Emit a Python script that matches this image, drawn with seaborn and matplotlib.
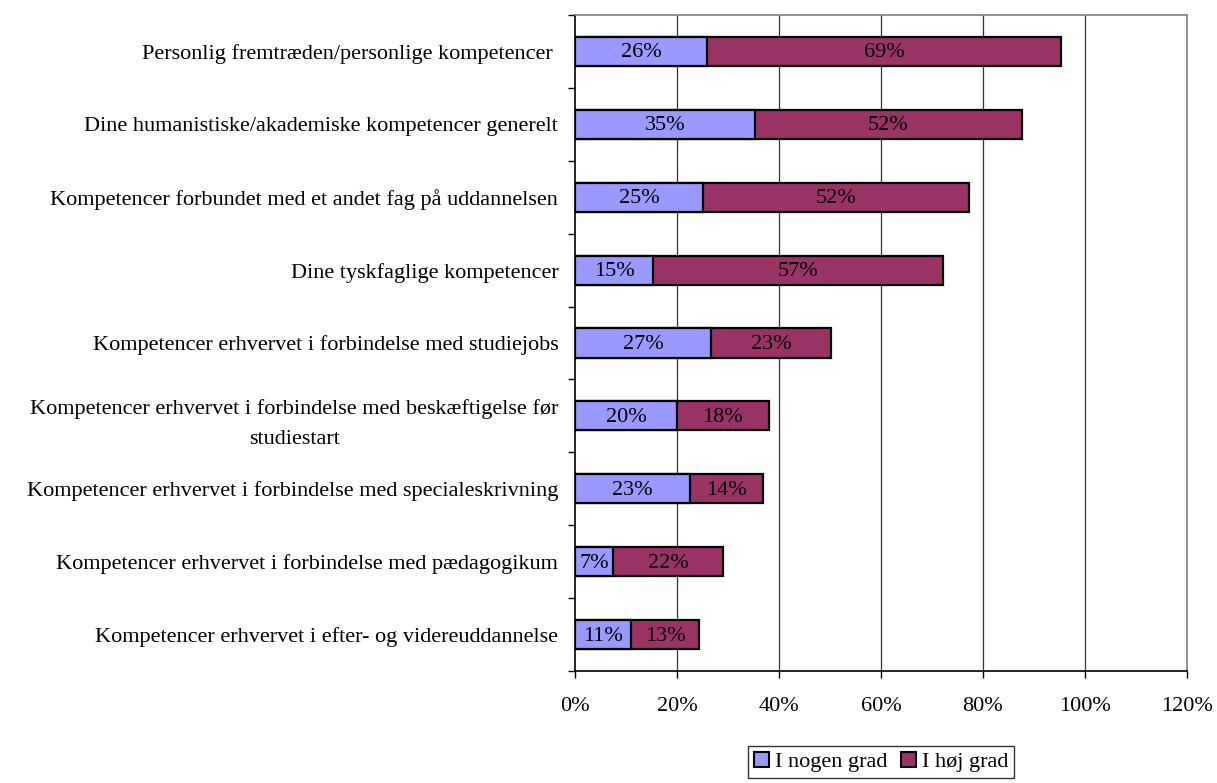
import pandas as pd
import seaborn as sns
import matplotlib.pyplot as plt

# Data (percent)
categories = [
    "Personlig fremtræden/personlige kompetencer ",
    "Dine humanistiske/akademiske kompetencer generelt",
    "Kompetencer forbundet med et andet fag på uddannelsen",
    "Dine tyskfaglige kompetencer",
    "Kompetencer erhvervet i forbindelse med studiejobs",
    "Kompetencer erhvervet i forbindelse med beskæftigelse før\nstudiestart",
    "Kompetencer erhvervet i forbindelse med specialeskrivning",
    "Kompetencer erhvervet i forbindelse med pædagogikum",
    "Kompetencer erhvervet i efter- og videreuddannelse",
]
nogen_grad = [25.9, 35.2, 25.1, 15.3, 26.7, 20.0, 22.6, 7.4, 11.0]
hoej_grad = [69.4, 52.4, 52.1, 56.9, 23.4, 18.0, 14.3, 21.7, 13.4]
series_names = ["I nogen grad", "I høj grad"]
x_ticks = [0, 20, 40, 60, 80, 100, 120]

BLUE = "#9999FF"
MAROON = "#993366"
FS = 16

df = pd.DataFrame({"kategori": categories, "nogen": nogen_grad, "hoej": hoej_grad})
df["total"] = df["nogen"] + df["hoej"]

sns.set_style("white")
plt.rcParams["font.family"] = ["Liberation Serif", "DejaVu Serif"]
plt.rcParams["font.size"] = FS
plt.rcParams["text.color"] = "black"
plt.rcParams["xtick.color"] = "black"
plt.rcParams["ytick.color"] = "black"

fig = plt.figure(figsize=(12.17, 7.83), dpi=100)
ax = fig.add_axes([575 / 1217, 1 - 671 / 783, (1187 - 575) / 1217, (671 - 15) / 783])

# gridlines behind bars
for x in x_ticks[1:-1]:
    ax.axvline(x, color="#333333", lw=0.9, zorder=0)

# stacked bars: total first, then the first segment on top
sns.barplot(data=df, y="kategori", x="total", orient="h", color=MAROON,
            saturation=1, width=0.4, edgecolor="black", linewidth=1.6, ax=ax, zorder=2)
sns.barplot(data=df, y="kategori", x="nogen", orient="h", color=BLUE,
            saturation=1, width=0.4, edgecolor="black", linewidth=1.6, ax=ax, zorder=3)

# value labels in the middle of each segment
for i, row in df.iterrows():
    ax.text(row["nogen"] / 2, i + 0.02, f"{row['nogen']:.0f}%", ha="center", va="center",
            fontsize=FS, color="black", zorder=4)
    ax.text(row["nogen"] + row["hoej"] / 2, i + 0.02, f"{row['hoej']:.0f}%", ha="center",
            va="center", fontsize=FS, color="black", zorder=4)

ax.set_xlim(0, 120)
ax.set_ylim(len(categories) - 0.5, -0.5)
ax.set_xticks(x_ticks)
ax.set_xticklabels([f"{t}%" for t in x_ticks], fontsize=FS)
ax.set_yticks(range(len(categories)))
ax.set_yticklabels(categories, fontsize=FS, multialignment="center", linespacing=1.8)
ax.set_yticks([i - 0.5 for i in range(len(categories) + 1)], minor=True)
ax.tick_params(axis="y", which="major", length=0, pad=12)
ax.tick_params(axis="y", which="minor", length=5, width=1, color="black", direction="out", left=True)
ax.tick_params(axis="x", which="major", length=5, width=1, color="black", direction="out",
               bottom=True, pad=14)
ax.set_xlabel("")
ax.set_ylabel("")

for side in ["top", "right"]:
    ax.spines[side].set_visible(True)
    ax.spines[side].set_color("#808080")
    ax.spines[side].set_linewidth(1.2)
for side in ["left", "bottom"]:
    ax.spines[side].set_visible(True)
    ax.spines[side].set_color("black")
    ax.spines[side].set_linewidth(1.2)

handles = [plt.Rectangle((0, 0), 1, 1, facecolor=BLUE, edgecolor="black", lw=1.5),
           plt.Rectangle((0, 0), 1, 1, facecolor=MAROON, edgecolor="black", lw=1.5)]
leg = fig.legend(handles, series_names, loc="center", bbox_to_anchor=(881 / 1217, 1 - 762 / 783),
                 ncol=2, frameon=True, fancybox=False, edgecolor="black", fontsize=FS,
                 handlelength=0.7, handleheight=0.7, handletextpad=0.25, columnspacing=0.6,
                 borderpad=0.25, borderaxespad=0)
leg.get_frame().set_linewidth(1.0)

fig.savefig("out.png", dpi=100)
